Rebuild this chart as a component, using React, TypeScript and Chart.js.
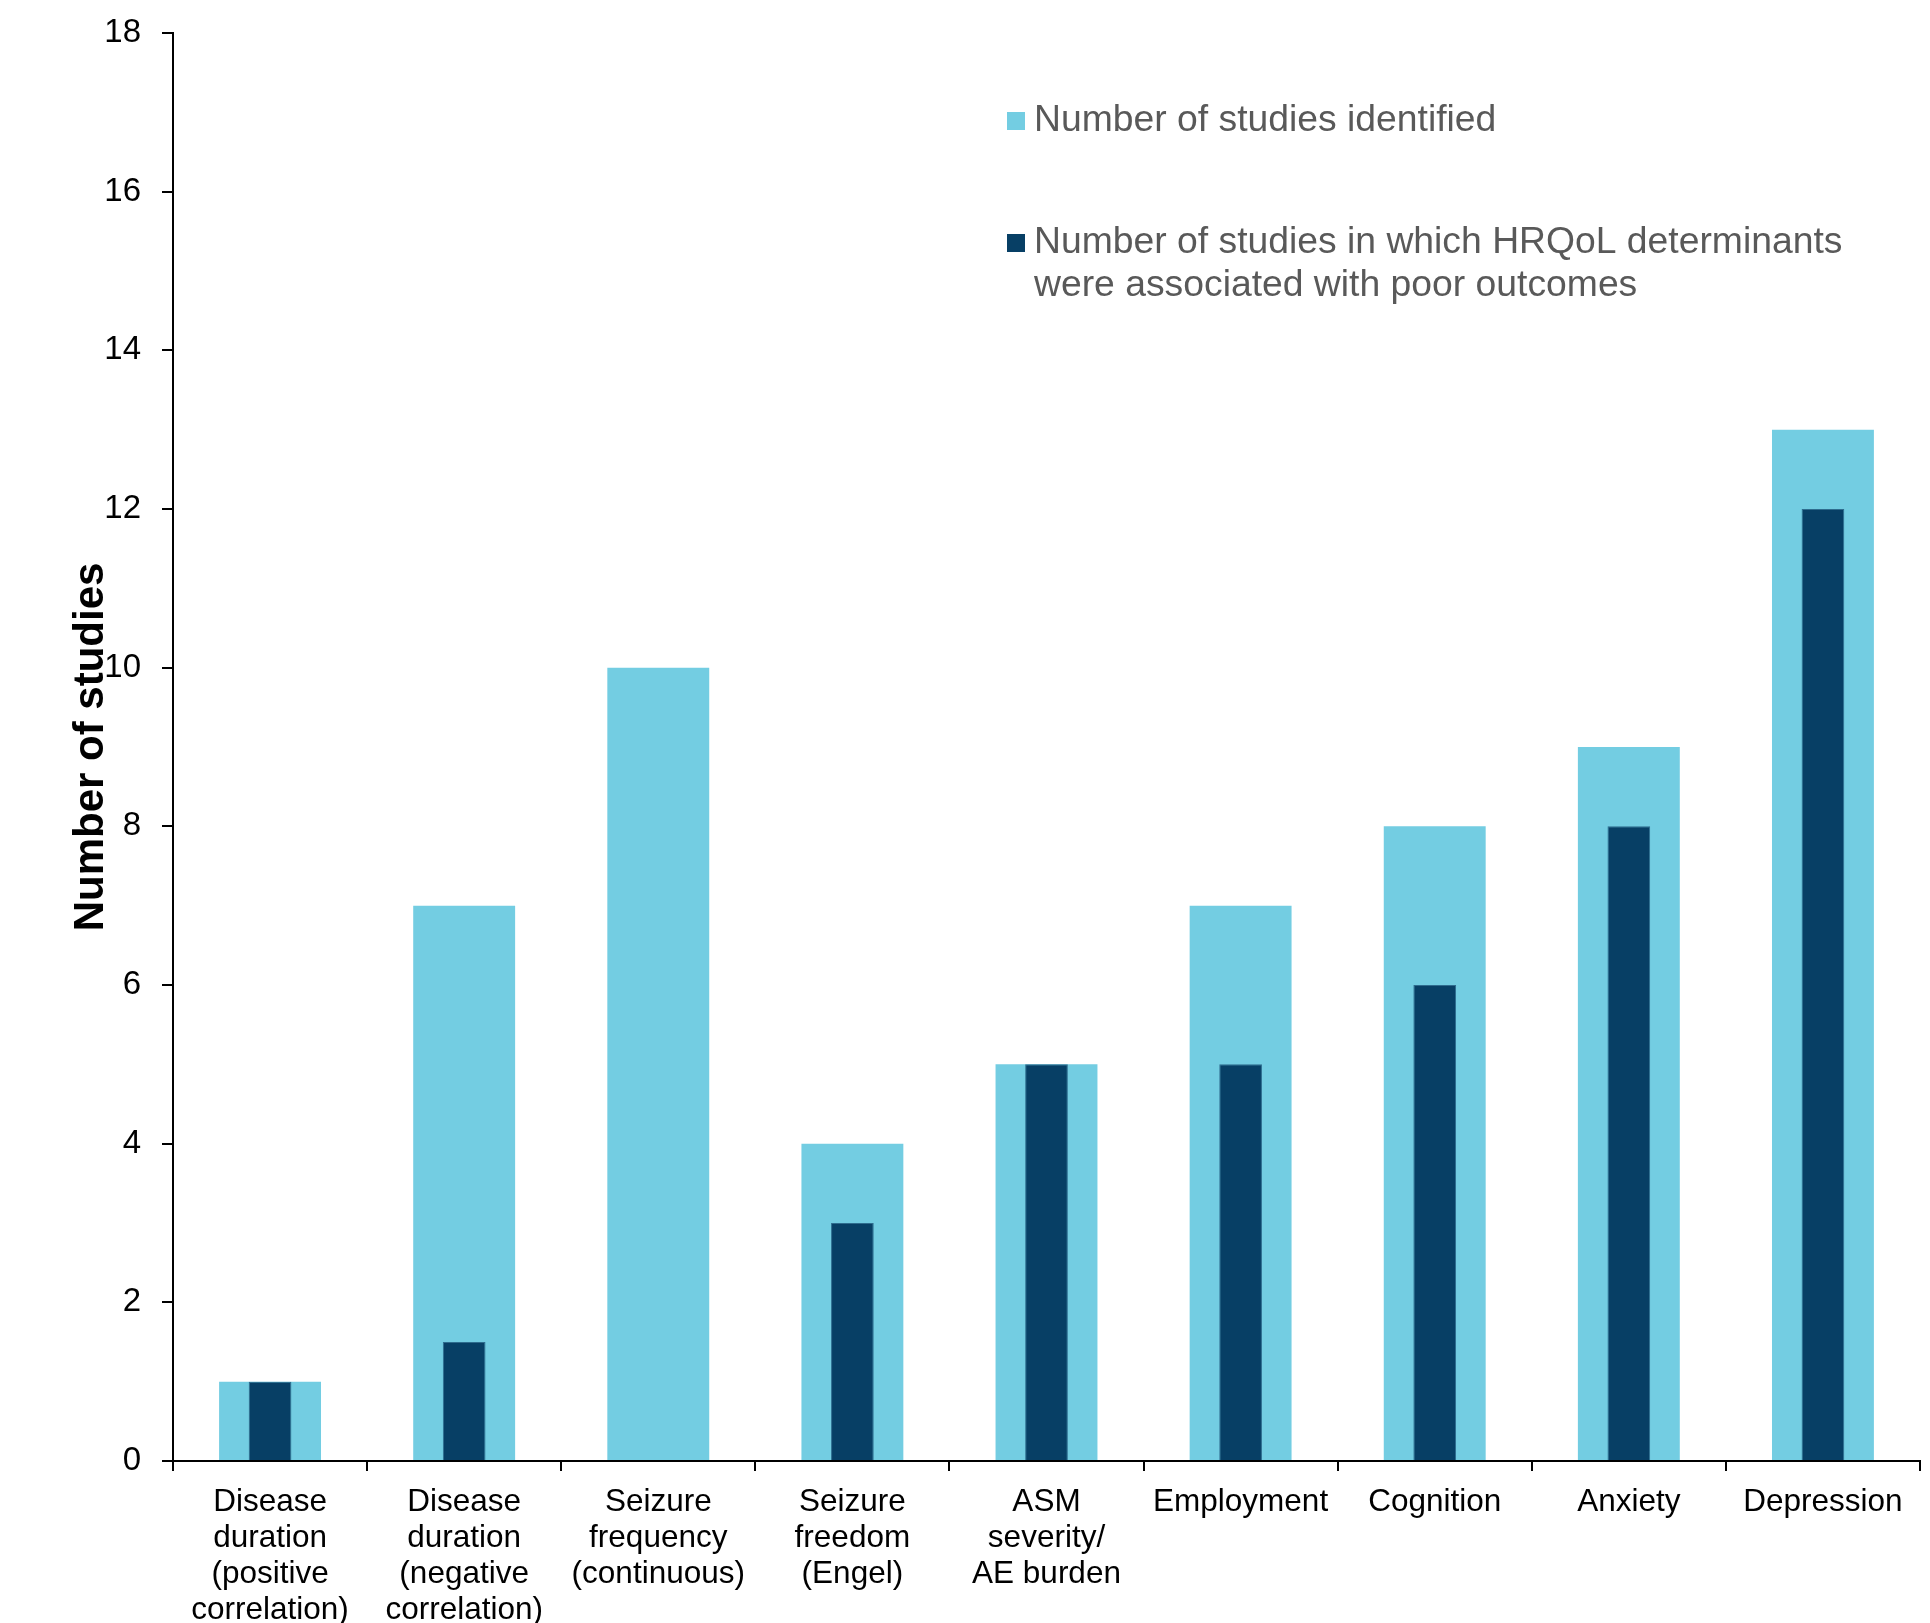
import React, { useEffect, useRef } from "react";
import { Chart, registerables } from "chart.js";

Chart.register(...registerables);

const categories: (string | string[])[] = [
  ["Disease", "duration", "(positive", "correlation)"],
  ["Disease", "duration", "(negative", "correlation)"],
  ["Seizure", "frequency", "(continuous)"],
  ["Seizure", "freedom", "(Engel)"],
  ["ASM", "severity/", "AE burden"],
  "Employment",
  "Cognition",
  "Anxiety",
  "Depression",
];

const studiesIdentified = [1, 7, 10, 4, 5, 7, 8, 9, 13];
const studiesPoorOutcomes: (number | null)[] = [1, 1.5, null, 3, 5, 5, 6, 8, 12];

const legendLabels: string[][] = [
  ["Number of studies identified"],
  ["Number of studies in which HRQoL determinants", "were associated with poor outcomes"],
];

const yAxisTitle = "Number of studies";
const yMin = 0;
const yMax = 18;
const yStep = 2;

const LIGHT = "#73CDE2";
const DARK = "#073F65";
const FONT = '"Liberation Sans", Arial, Helvetica, sans-serif';

const legendPlugin = {
  id: "customLegend",
  afterDraw(chart: any) {
    const ctx = chart.ctx as CanvasRenderingContext2D;
    const colors = [LIGHT, DARK];
    const itemY = [121, 243];
    const lineH = 43;
    const boxX = 1007;
    const boxSize = 18;
    const textX = 1034;
    ctx.save();
    ctx.font = `37.3px ${FONT}`;
    ctx.textBaseline = "middle";
    ctx.textAlign = "left";
    legendLabels.forEach((lines, i) => {
      ctx.fillStyle = colors[i];
      ctx.fillRect(boxX, itemY[i] - boxSize / 2, boxSize, boxSize);
      ctx.fillStyle = "#595959";
      lines.forEach((line, j) => {
        ctx.fillText(line, textX, itemY[i] + j * lineH);
      });
    });
    ctx.restore();
  },
};

export default function App() {
  const canvasRef = useRef<HTMLCanvasElement | null>(null);

  useEffect(() => {
    if (!canvasRef.current) return;
    Chart.defaults.font.family = FONT;
    const chart = new Chart(canvasRef.current, {
      type: "bar",
      data: {
        labels: categories,
        datasets: [
          {
            label: legendLabels[1].join(" "),
            data: studiesPoorOutcomes,
            backgroundColor: DARK,
            borderColor: "#2E6C8E",
            borderWidth: 1,
            grouped: false,
            categoryPercentage: 1,
            barPercentage: 0.22,
            order: 1,
          } as any,
          {
            label: legendLabels[0].join(" "),
            data: studiesIdentified,
            backgroundColor: LIGHT,
            borderWidth: 0,
            grouped: false,
            categoryPercentage: 1,
            barPercentage: 0.525,
            order: 2,
          } as any,
        ],
      },
      options: {
        animation: false,
        responsive: true,
        maintainAspectRatio: false,
        layout: { padding: { left: 0, right: 10, top: 33, bottom: 0 } },
        plugins: {
          legend: { display: false },
          tooltip: { enabled: false },
        },
        scales: {
          x: {
            grid: {
              display: true,
              drawOnChartArea: false,
              drawTicks: true,
              tickLength: 10,
              color: "#000",
              lineWidth: 2,
              offset: true,
            },
            border: { display: true, color: "#000", width: 2 },
            ticks: {
              color: "#000",
              font: { size: 31.5, lineHeight: 1.15 },
              maxRotation: 0,
              minRotation: 0,
              autoSkip: false,
              padding: 13,
            },
            afterFit: (axis: any) => {
              axis.height = 162;
            },
          },
          y: {
            min: yMin,
            max: yMax,
            ticks: {
              stepSize: yStep,
              color: "#000",
              font: { size: 33 },
              padding: 21,
            },
            grid: {
              display: true,
              drawOnChartArea: false,
              drawTicks: true,
              tickLength: 11,
              color: "#000",
              lineWidth: 2,
            },
            border: { display: true, color: "#000", width: 2 },
            title: {
              display: true,
              text: yAxisTitle,
              color: "#000",
              font: { size: 42, weight: "bold", lineHeight: 1.2 },
              padding: { top: 66, bottom: 0 },
            },
            afterFit: (axis: any) => {
              axis.width = 173;
              axis.paddingTop = 0;
              axis.paddingBottom = 0;
            },
          },
        },
      },
      plugins: [legendPlugin],
    });
    return () => chart.destroy();
  }, []);

  return (
    <div
      style={{
        position: "fixed",
        left: 0,
        top: 0,
        width: 1930,
        height: 1623,
        background: "#fff",
      }}
    >
      <canvas ref={canvasRef} />
    </div>
  );
}
